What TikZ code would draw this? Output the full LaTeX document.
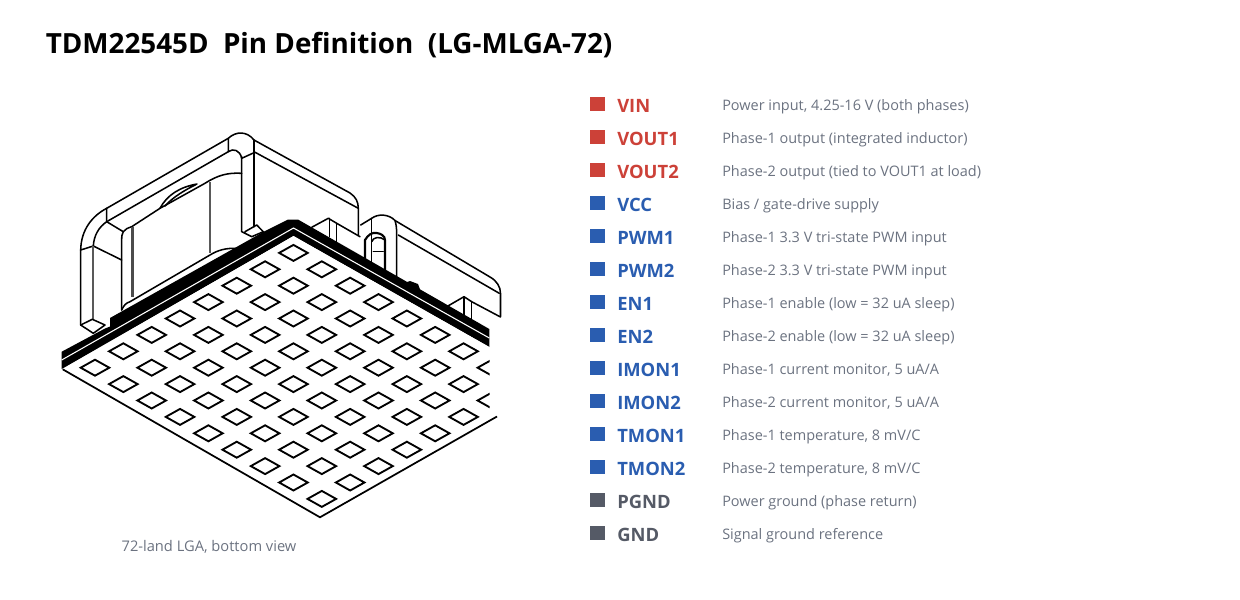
\documentclass[tikz,border=0pt]{standalone}
\usepackage{fontspec}
\setmainfont{Open Sans}
\definecolor{pinred}{RGB}{204,65,56}
\definecolor{pinblue}{RGB}{42,93,176}
\definecolor{pingray}{RGB}{85,90,102}
\definecolor{desctext}{RGB}{107,114,128}
\tikzset{
    pinsq/.style={fill=#1, minimum width=11.25pt, minimum height=10.5pt, inner sep=0pt, outer sep=0pt},
    pinname/.style={anchor=base west, inner sep=0pt, text=#1, font=\fontsize{13.8pt}{15pt}\selectfont\bfseries},
    pindesc/.style={anchor=base west, inner sep=0pt, text=desctext, font=\fontsize{10.85pt}{13pt}\selectfont},
    outl/.style={line width=1.15pt, line join=round, line cap=round},
    thinl/.style={line width=1.3pt, black!65},
    pad/.style={line width=1.4pt, line join=miter}
}
\begin{document}
\begin{tikzpicture}[x=0.75pt,y=-0.75pt]
    \useasboundingbox (0,0) rectangle (1240,600);

    % Title
    \node[anchor=base west, inner sep=0pt, font=\fontsize{20.85pt}{24pt}\selectfont\bfseries] (title) at (45.5,53) {TDM22545D\ \ Pin Definition\ \ (LG-MLGA-72)};

    % Left pillar and top bar
    \draw[outl] (80.7,325) -- (80.7,250) .. controls (81,230) and (92,216) .. (106.7,208.3) -- (228.3,138.3)
        .. controls (236,131) and (247,131) .. (254,140) -- (350,193) .. controls (356,197) and (358.3,202) .. (358.3,208.3) -- (358.3,235);
    \draw[outl] (358.3,208.3) -- (254,151.7);
    \draw[outl] (93.3,246) .. controls (94,235) and (99,227) .. (106.7,221.7) -- (228.3,151.7);
    \draw[outl] (106.7,208.3) -- (106.7,221.7) -- (123.3,231.7) .. controls (125,229) and (128,228) .. (131.7,226.7)
        -- (160,208.3) -- (205,183.3) .. controls (218,175) and (228,172.5) .. (241.7,173.3);
    \draw[outl] (80.7,250) -- (93.3,246) -- (121.7,260);
    \draw[outl] (123.3,231.7) .. controls (122,234) and (121.7,236) .. (121.7,240) -- (121.7,310);
    \draw[thinl] (93.3,246) -- (93.3,319.3);
    \draw[line width=1.9pt, black!70] (132.7,226.7) -- (132.7,297);
    \draw[thinl] (210,181.7) -- (210,253);

    % Lens on the cavity wall
    \draw[outl] (160,208.3) .. controls (167,195) and (180,187) .. (197,184) (165,206) .. controls (173,197) and (185,190) .. (197,184);

    % Corner column
    \draw[outl] (228.3,138.3) -- (228.3,151.7) .. controls (233,148) and (240,150) .. (241.7,158.3) -- (254,152.7);
    \draw[outl] (254,140) -- (254,226.7);
    \draw[outl] (241.7,156.7) -- (241.7,231.7) -- (251.7,236.7) -- (263.3,231.7) -- (256.7,225) -- (245,231.7);

    % Cavity floor
    \draw[outl] (121.7,310) .. controls (124,305) and (126,303) .. (130,301.7) -- (210,255) .. controls (218,250) and (226,248) .. (236.7,248.3);
    \draw[outl] (80.7,325) -- (92.3,319.3) -- (105,325) -- (93.3,333.3) -- cycle;

    % Small tab
    \draw[outl] (311.7,227.3) -- (328.3,218.3) -- (336.7,223.3) -- (360,236.7);
    \draw[outl] (329.3,218.3) -- (329.3,236.7) (336.7,223.3) -- (336.7,241.7);

    % Right housing
    \draw[outl] (360.7,225) -- (371.7,218.3) .. controls (378,213.5) and (389,214) .. (395,220.5) -- (490,277)
        .. controls (497,281) and (500.5,287) .. (500.5,293.3) -- (500.5,316.7);
    \draw[outl] (398.3,235) -- (499.3,293.3);
    \draw[outl] (395,220.5) .. controls (396,224) and (396.7,227) .. (396.7,235) -- (396.7,276.7);
    \draw[outl] (371.7,218.3) -- (371.7,263);
    \draw[line width=1.6pt] (365,263) -- (365,240) .. controls (368,235) and (372,232) .. (376.7,233) .. controls (381,233.5) and (385,236) .. (385,240) -- (385,270);
    \draw[outl] (373.3,251.7) -- (383.3,251.7);
    \draw[outl] (371.7,241.7) .. controls (373,237) and (380,236) .. (385,240);

    % Right tab
    \draw[outl] (446.7,306.7) -- (464,296.7) -- (471.7,301.7) -- (500.5,317);
    \draw[outl] (464,296.7) -- (464,316.7) (471.7,301.7) -- (471.7,320);

    % Black rim
    \fill (61.7,351.7) -- (105,328.5) -- (110,326.5) -- (110,318) -- (265,231) -- (275,226) -- (288,219.5) -- (298,219.5) -- (489.3,329) -- (489.3,347) -- (293.5,236) -- (61.7,369) -- cycle;
    \fill[line join=round] (401,284) -- (410,281) -- (418,284) -- (421,292) -- (410,292) -- cycle;
    \draw[white, line width=0.8pt] (61.7,360) -- (293.5,228) -- (489.3,338);

    % Plate outline
    \fill[white] (62.7,369.3) -- (293.5,236) -- (489.3,347) -- (497,416.5) -- (320,517.3) -- cycle;
    \draw[line width=1.3pt, line join=round] (62.7,369.3) -- (320,517.3) -- (497,416.5);

    % Lands
    \begin{scope}
        \clip (50,200) rectangle (489.5,530);
        \foreach \i in {0,...,8}
            \foreach \j in {0,...,7}
                \draw[pad] ({95+28.35*(\i+\j)-14.3},{367.7+16.4*(\i-\j)}) -- ++(14.3,-8) -- ++(14.3,8) -- ++(-14.3,8) -- cycle;
    \end{scope}

    % Caption
    \node[anchor=base, inner sep=0pt, text=desctext, font=\fontsize{11pt}{13pt}\selectfont] (caption) at (209,551) {72-land LGA, bottom view};

    % Pin list
    \node[pinsq=pinred] (sqvin) at (597.5,103.5) {};
    \node[pinname=pinred] (vin) at (617,112) {VIN};
    \node[pindesc] (dvin) at (722,110) {Power input, 4.25-16 V (both phases)};

    \node[pinsq=pinred] (sqvouta) at (597.5,136.5) {};
    \node[pinname=pinred] (vouta) at (617,145) {VOUT1};
    \node[pindesc] (dvouta) at (722,143) {Phase-1 output (integrated inductor)};

    \node[pinsq=pinred] (sqvoutb) at (597.5,169.5) {};
    \node[pinname=pinred] (voutb) at (617,178) {VOUT2};
    \node[pindesc] (dvoutb) at (722,176) {Phase-2 output (tied to VOUT1 at load)};

    \node[pinsq=pinblue] (sqvcc) at (597.5,202.5) {};
    \node[pinname=pinblue] (vcc) at (617,211) {VCC};
    \node[pindesc] (dvcc) at (722,209) {Bias / gate-drive supply};

    \node[pinsq=pinblue] (sqpwma) at (597.5,235.5) {};
    \node[pinname=pinblue] (pwma) at (617,244) {PWM1};
    \node[pindesc] (dpwma) at (722,242) {Phase-1 3.3 V tri-state PWM input};

    \node[pinsq=pinblue] (sqpwmb) at (597.5,268.5) {};
    \node[pinname=pinblue] (pwmb) at (617,277) {PWM2};
    \node[pindesc] (dpwmb) at (722,275) {Phase-2 3.3 V tri-state PWM input};

    \node[pinsq=pinblue] (sqena) at (597.5,301.5) {};
    \node[pinname=pinblue] (ena) at (617,310) {EN1};
    \node[pindesc] (dena) at (722,308) {Phase-1 enable (low = 32 uA sleep)};

    \node[pinsq=pinblue] (sqenb) at (597.5,334.5) {};
    \node[pinname=pinblue] (enb) at (617,343) {EN2};
    \node[pindesc] (denb) at (722,341) {Phase-2 enable (low = 32 uA sleep)};

    \node[pinsq=pinblue] (sqimona) at (597.5,367.5) {};
    \node[pinname=pinblue] (imona) at (617,376) {IMON1};
    \node[pindesc] (dimona) at (722,374) {Phase-1 current monitor, 5 uA/A};

    \node[pinsq=pinblue] (sqimonb) at (597.5,400.5) {};
    \node[pinname=pinblue] (imonb) at (617,409) {IMON2};
    \node[pindesc] (dimonb) at (722,407) {Phase-2 current monitor, 5 uA/A};

    \node[pinsq=pinblue] (sqtmona) at (597.5,433.5) {};
    \node[pinname=pinblue] (tmona) at (617,442) {TMON1};
    \node[pindesc] (dtmona) at (722,440) {Phase-1 temperature, 8 mV/C};

    \node[pinsq=pinblue] (sqtmonb) at (597.5,466.5) {};
    \node[pinname=pinblue] (tmonb) at (617,475) {TMON2};
    \node[pindesc] (dtmonb) at (722,473) {Phase-2 temperature, 8 mV/C};

    \node[pinsq=pingray] (sqpgnd) at (597.5,499.5) {};
    \node[pinname=pingray] (pgnd) at (617,508) {PGND};
    \node[pindesc] (dpgnd) at (722,506) {Power ground (phase return)};

    \node[pinsq=pingray] (sqgnd) at (597.5,532.5) {};
    \node[pinname=pingray] (gnd) at (617,541) {GND};
    \node[pindesc] (dgnd) at (722,539) {Signal ground reference};
\end{tikzpicture}
\end{document}
